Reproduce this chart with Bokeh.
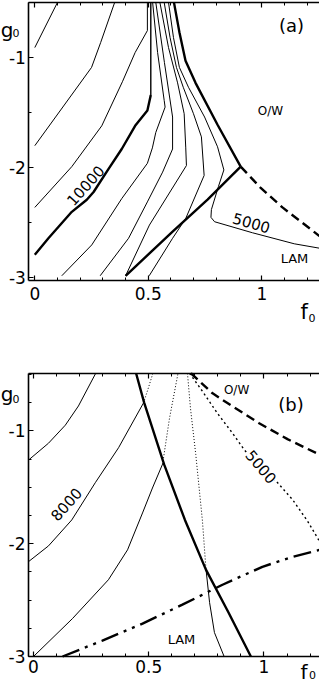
from bokeh.plotting import figure
from bokeh.layouts import column
from bokeh.models import Label, LinearAxis, SingleIntervalTicker, Range1d, CustomJSTickFormatter
from bokeh.embed import file_html
from bokeh.resources import INLINE

FONT = "DejaVu Sans"

# ---------------- panel (a) data ----------------
a_c1_f = [0.0, 0.10]
a_c1_g = [-0.91, -0.50]
a_c2_f = [0.0, 0.25, 0.29, 0.352]
a_c2_g = [-1.80, -1.09, -0.865, -0.50]
a_c3_f = [0.0, 0.163, 0.295, 0.386, 0.442, 0.496, 0.496]
a_c3_g = [-2.36, -1.99, -1.62, -1.22, -0.955, -0.756, -0.50]
a_10000_f = [0.0, 0.060, 0.163, 0.229, 0.259, 0.325, 0.383, 0.442, 0.496, 0.511]
a_10000_g = [-2.79, -2.64, -2.40, -2.29, -2.22, -2.01, -1.83, -1.62, -1.48, -1.34]
a_10000v_f = [0.511, 0.511]
a_10000v_g = [-1.34, -0.50]
a_c5_f = [0.119, 0.251, 0.383, 0.496, 0.518, 0.533, 0.574, 0.570, 0.541, 0.519]
a_c5_g = [-2.98, -2.70, -2.28, -1.96, -1.82, -1.68, -1.45, -1.39, -0.955, -0.50]
a_c6_f = [0.288, 0.413, 0.496, 0.563, 0.607, 0.607, 0.571, 0.533]
a_c6_g = [-2.98, -2.64, -2.31, -2.04, -1.83, -1.54, -1.045, -0.50]
a_c7_f = [0.400, 0.505, 0.668, 0.665, 0.658, 0.629, 0.589, 0.551]
a_c7_g = [-2.98, -2.52, -1.98, -1.82, -1.51, -1.23, -0.91, -0.50]
a_c8_f = [0.504, 0.607, 0.665, 0.746, 0.734, 0.699, 0.654, 0.624, 0.596, 0.570]
a_c8_g = [-2.98, -2.64, -2.46, -2.07, -1.72, -1.51, -1.27, -1.09, -0.82, -0.50]
a_5000_f = [0.589, 0.611, 0.637, 0.677, 0.748, 0.805, 0.833, 0.809, 0.778, 0.776, 0.792, 0.959, 1.143, 1.254]
a_5000_g = [-0.50, -0.82, -1.09, -1.27, -1.54, -1.81, -2.02, -2.17, -2.38, -2.45, -2.49, -2.59, -2.69, -2.73]
a_ow_f = [0.613, 0.637, 0.664, 0.708, 0.805, 0.907]
a_ow_g = [-0.50, -0.77, -1.03, -1.23, -1.61, -1.99]
a_lam_f = [0.907, 0.761, 0.607, 0.400]
a_lam_g = [-1.99, -2.29, -2.58, -2.98]
a_dash_f = [0.907, 0.994, 1.091, 1.179, 1.254]
a_dash_g = [-1.99, -2.18, -2.36, -2.50, -2.62]

# ---------------- panel (b) data ----------------
b_c1_f = [-0.022, 0.065, 0.138, 0.195, 0.270]
b_c1_g = [-1.26, -1.11, -0.95, -0.78, -0.49]
b_8000_f = [-0.022, 0.065, 0.166, 0.268, 0.369, 0.477]
b_8000_g = [-2.16, -2.02, -1.79, -1.46, -1.15, -0.754]
b_8000d_f = [0.477, 0.495, 0.518]
b_8000d_g = [-0.754, -0.642, -0.49]
b_c3_f = [0.0, 0.169, 0.325, 0.408, 0.473, 0.516, 0.560]
b_c3_g = [-3.0, -2.664, -2.32, -2.055, -1.728, -1.507, -1.295]
b_c3d_f = [0.560, 0.590, 0.627]
b_c3d_g = [-1.295, -0.889, -0.49]
b_thick_f = [0.445, 0.480, 0.567, 0.657, 0.748, 0.846, 0.943]
b_thick_g = [-0.49, -0.75, -1.30, -1.79, -2.23, -2.61, -3.0]
b_c5_f = [0.748, 0.764, 0.785, 0.827]
b_c5_g = [-2.22, -2.523, -2.788, -3.0]
b_c5d_f = [0.748, 0.733, 0.704, 0.681, 0.668]
b_c5d_g = [-2.22, -1.80, -1.21, -0.80, -0.49]
b_5000_f = [0.677, 0.733, 0.798, 0.863, 0.915, 0.985, 1.059, 1.124, 1.189, 1.241]
b_5000_g = [-0.49, -0.65, -0.845, -1.02, -1.17, -1.32, -1.46, -1.61, -1.80, -1.98]
b_ow_f = [0.683, 0.777, 0.863, 0.979, 1.102, 1.241]
b_ow_g = [-0.49, -0.668, -0.783, -0.933, -1.074, -1.211]
b_lam_f = [0.126, 0.299, 0.473, 0.646, 0.820, 0.993, 1.124, 1.241]
b_lam_g = [-3.0, -2.859, -2.708, -2.541, -2.364, -2.205, -2.117, -2.055]

THIN = 1.0
THICK = 2.4


def make_panel(xr, yr, height, x0, y0, ytop, y_minor, x_standoff, y_standoff):
    p = figure(width=319, height=height, x_range=Range1d(*xr), y_range=Range1d(*yr),
               output_backend="svg", toolbar_location=None,
               x_axis_type=None, y_axis_type=None, min_border=0)
    p.outline_line_color = None
    p.background_fill_color = "white"
    p.border_fill_color = "white"
    fmt = CustomJSTickFormatter(code="return String(Math.round(tick*100)/100);")
    xa = LinearAxis(ticker=SingleIntervalTicker(interval=0.5, num_minor_ticks=5), formatter=fmt,
                    fixed_location=y0, bounds=(x0, xr[1]))
    ya = LinearAxis(ticker=SingleIntervalTicker(interval=1, num_minor_ticks=y_minor), formatter=fmt,
                    fixed_location=x0, bounds=(y0, ytop))
    ta = LinearAxis(ticker=SingleIntervalTicker(interval=0.5, num_minor_ticks=5),
                    formatter=CustomJSTickFormatter(code="return '';"),
                    fixed_location=ytop, bounds=(x0, xr[1]))
    for ax in (xa, ya, ta):
        ax.axis_line_width = 1.6
        ax.axis_line_color = "black"
        ax.major_tick_in = 5
        ax.major_tick_out = 0
        ax.minor_tick_in = 3
        ax.minor_tick_out = 0
        ax.major_tick_line_width = 1.2
        ax.major_label_text_font = FONT
        ax.major_label_text_font_size = "17px"
        ax.major_label_text_color = "black"
    xa.major_label_standoff = x_standoff
    ya.major_label_standoff = y_standoff
    ta.major_label_text_font_size = "0px"
    ta.major_label_standoff = 0
    p.add_layout(xa, "below")
    p.add_layout(ya, "left")
    p.add_layout(ta, "above")
    return p


def lab(p, x, y, text, size, angle=0, align="center", baseline="middle", bg=None):
    l = Label(x=x, y=y, text=text, text_font=FONT, text_font_size=f"{size}px",
              angle=angle, angle_units="deg", text_align=align, text_baseline=baseline,
              text_color="black")
    if bg is not None:
        l.background_fill_color = bg
    p.add_layout(l)


# ---------------- panel (a) ----------------
pa = make_panel((-0.1511, 1.2542), (-3.658, -0.483), 350, -0.026, -3.023, -0.5, 2, 6, 3)
for fx, gy in [(a_c1_f, a_c1_g), (a_c2_f, a_c2_g), (a_c3_f, a_c3_g), (a_c5_f, a_c5_g),
               (a_c6_f, a_c6_g), (a_c7_f, a_c7_g), (a_c8_f, a_c8_g), (a_5000_f, a_5000_g)]:
    pa.line(fx, gy, line_width=THIN, line_color="black")
pa.line(a_10000v_f, a_10000v_g, line_width=1.4, line_color="black")
for fx, gy in [(a_10000_f, a_10000_g), (a_ow_f, a_ow_g), (a_lam_f, a_lam_g)]:
    pa.line(fx, gy, line_width=THICK, line_color="black")
pa.line(a_dash_f, a_dash_g, line_width=THICK, line_color="black", line_dash="9 5")

lab(pa, 1.131, -0.710, "(a)", 18)
lab(pa, 1.038, -1.481, "O/W", 12)
lab(pa, 1.144, -2.819, "LAM", 13)
lab(pa, 0.222, -2.160, "10000", 15, angle=48)
lab(pa, 0.955, -2.497, "5000", 15, angle=-16)
lab(pa, -0.150, -0.755, "g", 20, align="left", baseline="alphabetic")
lab(pa, -0.098, -0.782, "0", 11, align="left", baseline="alphabetic")
lab(pa, 1.170, -3.313, "f", 21, align="left", baseline="alphabetic")
lab(pa, 1.206, -3.367, "0", 11, align="left", baseline="alphabetic")

# ---------------- panel (b) ----------------
pb = make_panel((-0.1432, 1.2408), (-3.2393, -0.2884), 333, -0.0217, -3.0, -0.49, 4, 4, 3)
for fx, gy in [(b_c1_f, b_c1_g), (b_8000_f, b_8000_g), (b_c3_f, b_c3_g), (b_c5_f, b_c5_g)]:
    pb.line(fx, gy, line_width=THIN, line_color="black")
for fx, gy in [(b_8000d_f, b_8000d_g), (b_c3d_f, b_c3d_g), (b_c5d_f, b_c5d_g)]:
    pb.line(fx, gy, line_width=1.0, line_color="black", line_dash="1 2")
pb.line(b_5000_f, b_5000_g, line_width=1.4, line_color="black", line_dash="2 3")
pb.line(b_thick_f, b_thick_g, line_width=THICK, line_color="black")
pb.line(b_ow_f, b_ow_g, line_width=THICK, line_color="black", line_dash="9 5")
pb.line(b_lam_f, b_lam_g, line_width=THICK, line_color="black", line_dash="18 6 3 6 3 6")

lab(pb, 1.117, -0.763, "(b)", 18)
lab(pb, 0.881, -0.638, "O/W", 12)
lab(pb, 0.642, -2.849, "LAM", 13)
lab(pb, 0.141, -1.649, "8000", 15, angle=48)
lab(pb, 0.989, -1.316, "5000", 15, angle=-50, bg="white")
lab(pb, -0.142, -0.678, "g", 20, align="left", baseline="alphabetic")
lab(pb, -0.091, -0.714, "0", 11, align="left", baseline="alphabetic")
lab(pb, 1.158, -3.135, "f", 20, align="left", baseline="alphabetic")
lab(pb, 1.195, -3.162, "0", 11, align="left", baseline="alphabetic")

layout = column(pa, pb, spacing=0)
open("out.html", "w").write(file_html(layout, INLINE))
